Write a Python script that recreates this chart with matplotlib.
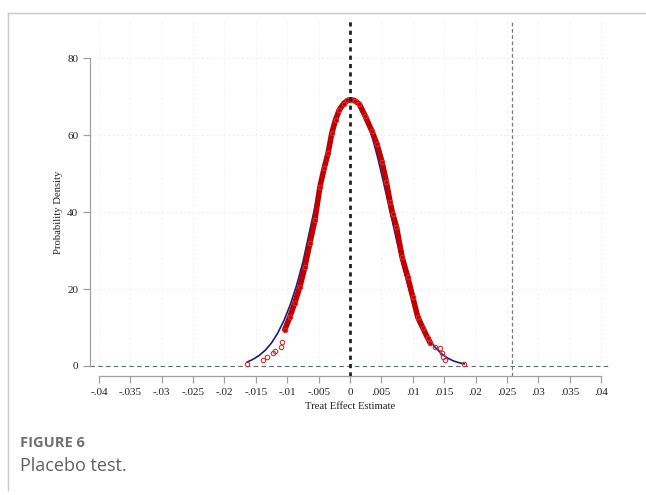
import matplotlib.pyplot as plt
import matplotlib as mpl
import numpy as np

mpl.rcParams['font.family'] = 'Liberation Serif'
mpl.rcParams['font.size'] = 8.0

# kernel density of placebo estimates (red circles)
red_x = [-0.0164, -0.0139, -0.0132, -0.0123, -0.0120, -0.0110, -0.0108, -0.0104,
         -0.0096, -0.0088, -0.0080, -0.0072, -0.0064, -0.0056, -0.0048, -0.0041,
         -0.0035, -0.0029, -0.0023, -0.0017, -0.0010, -0.0004, 0.0002, 0.0008,
         0.0015, 0.0024, 0.0035, 0.0043, 0.0051, 0.0058, 0.0064, 0.0068, 0.0074,
         0.0083, 0.0092, 0.0100, 0.0108, 0.0116, 0.0124, 0.0128, 0.0136, 0.0143,
         0.0146, 0.0148, 0.0151, 0.0182]
red_y = [0.5, 1.6, 2.3, 3.4, 3.9, 4.9, 6.2, 9.4,
         12.7, 16.4, 20.5, 25.7, 31.9, 37.9, 46.5, 51.5,
         55.3, 60.5, 64.0, 66.6, 68.2, 69.0, 69.2, 68.9,
         68.0, 65.0, 61.0, 57.6, 53.0, 47.8, 42.5, 39.5, 36.2,
         28.3, 23.1, 17.9, 12.7, 9.9, 7.2, 6.0, 4.9, 4.7,
         3.3, 2.3, 1.6, 0.5]

# normal density overlay (blue line)
blue_x = [-0.0164, -0.0155, -0.0145, -0.0135, -0.0125, -0.0115, -0.0105, -0.0095,
          -0.0085, -0.0075, -0.0065, -0.0055, -0.0045, -0.0035, -0.0025, -0.0015,
          -0.0005, 0.0005, 0.0015, 0.0025, 0.0035, 0.0045, 0.0055, 0.0065, 0.0075,
          0.0085, 0.0095, 0.0105, 0.0115, 0.0125, 0.0135, 0.0145, 0.0155, 0.0165,
          0.0175, 0.0182]
blue_y = [1.0, 1.7, 2.7, 4.1, 6.0, 8.6, 11.9, 16.0,
          21.0, 27.0, 34.5, 42.0, 49.5, 56.3, 62.0, 66.3,
          68.8, 69.2, 67.8, 64.6, 59.8, 53.6, 46.6, 39.4, 32.2,
          25.4, 19.5, 14.5, 10.5, 7.3, 5.0, 3.3, 2.1, 1.3,
          0.8, 0.56]

true_effect = 0.0258
xticks = [-0.04, -0.035, -0.03, -0.025, -0.02, -0.015, -0.01, -0.005, 0,
          0.005, 0.01, 0.015, 0.02, 0.025, 0.03, 0.035, 0.04]
xtick_labels = ['-.04', '-.035', '-.03', '-.025', '-.02', '-.015', '-.01', '-.005', '0',
                '.005', '.01', '.015', '.02', '.025', '.03', '.035', '.04']
yticks = [0, 20, 40, 60, 80]

fig = plt.figure(figsize=(6.46, 4.95), dpi=100)

# outer frame of the figure panel
fig.add_artist(plt.Line2D([8/646, 8/646], [0.01, 1 - 13/495], color='#c8c8c8', lw=1))
fig.add_artist(plt.Line2D([8/646, 1.0], [1 - 13/495, 1 - 13/495], color='#c8c8c8', lw=1))

ax = fig.add_axes([90/646, 1 - 376/495, 520/646, 356/495])
ax.set_xlim(-0.04143, 0.04143)
ax.set_ylim(-2.6, 89.9)

# faint grid
for yv in yticks[1:]:
    ax.axhline(yv, color='#f0f0f0', lw=0.8, ls=(0, (2, 2)), zorder=0)
for xv in xticks:
    ax.axvline(xv, ymin=2.6/92.5, color='#f4f4f4', lw=0.8, ls=(0, (2, 2)), zorder=0)

ax.plot([-0.04143, 0.04143], [0, 0], color='#5a6a6a', lw=0.8, ls=(0, (4, 3)), zorder=1)
ax.axvline(0, color='#222222', lw=2.0, ls=(0, (1.5, 1.5)), zorder=4)
ax.axvline(true_effect, color='#777777', lw=0.9, ls=(0, (3, 2)), zorder=1)

red_x = np.array(red_x)
red_y = np.array(red_y)
dense = (red_x > -0.0106) & (red_x < 0.0130)
ax.plot(blue_x, blue_y, color='#1c1c80', lw=1.2, zorder=2)
ax.plot(red_x[dense], red_y[dense], color='#c00000', lw=4.0, zorder=3,
        solid_capstyle='round', solid_joinstyle='round')
ax.plot(red_x, red_y, ls='none', marker='o', ms=3.2, mfc='none', mec='#d03030',
        mew=0.8, zorder=3)

for s in ['top', 'right']:
    ax.spines[s].set_visible(False)
ax.spines['left'].set_bounds(0, 80)
ax.spines['bottom'].set_bounds(-0.04, 0.04)
for s in ['left', 'bottom']:
    ax.spines[s].set_color('#a0a0a0')
    ax.spines[s].set_linewidth(0.9)
ax.tick_params(colors='#a0a0a0', length=5, width=0.9, labelcolor='#222222', labelsize=8)

ax.set_xticks(xticks)
ax.set_xticklabels(xtick_labels)
ax.set_yticks(yticks)
ax.set_xlabel('Treat Effect Estimate', fontsize=7.7, color='#222222', labelpad=4)
ax.set_ylabel('Probability Density', fontsize=7.7, color='#222222')
ax.yaxis.set_label_coords(-0.052, 42.6 / 92.5)

fig.text(20/646, 1 - 443/495, 'FIGURE 6', family='Open Sans', weight='bold',
         fontsize=10.5, color='#707070', va='center')
fig.text(20/646, 1 - 466/495, 'Placebo test.', family='Open Sans',
         fontsize=13, color='#606060', va='center')

fig.savefig('out.png', dpi=100)
